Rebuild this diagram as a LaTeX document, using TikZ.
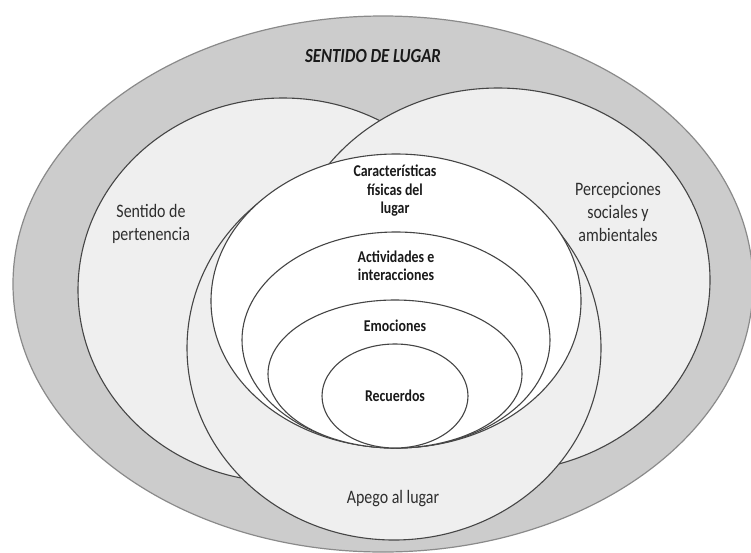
\documentclass[tikz,border=0pt]{standalone}
\usepackage{fontspec}
\setmainfont{Carlito}[FakeStretch=0.84]
\definecolor{outerfill}{HTML}{CCCCCC}
\definecolor{outeredge}{HTML}{8A8A8A}
\definecolor{lightfill}{HTML}{EFEFEF}
\definecolor{lineclr}{HTML}{454545}
\definecolor{txtclr}{HTML}{2E2E2E}
\begin{document}
\begin{tikzpicture}[x=1pt,y=-1pt,
  ring/.style={draw=lineclr,line width=1.1pt},
  lightring/.style={ring,fill=lightfill},
  whitering/.style={ring,fill=white},
  plainlabel/.style={align=center,text=txtclr,font=\fontsize{19}{23}\selectfont,inner sep=0pt},
  boldlabel/.style={align=center,text=black!90,font=\fontsize{16.5}{18.5}\selectfont\bfseries,inner sep=0pt},
  titlelabel/.style={text=black!90,font=\fontsize{20}{24}\selectfont\bfseries\itshape,inner sep=0pt}]
\useasboundingbox (0,0) rectangle (751,552);
\clip (0,0) rectangle (751,552);
% outer ellipse
\path[fill=outerfill,draw=outeredge,line width=1.2pt] (383,284) ellipse [x radius=370,y radius=268];
% left and right ellipses
\path[lightring] (283,290) ellipse [x radius=205,y radius=192];
\path[lightring] (498,280) ellipse [x radius=212,y radius=192];
% apego ellipse
\path[lightring] (394,348) ellipse [x radius=207,y radius=192];
% nested ellipses
\path[whitering] (396,301) ellipse [x radius=185,y radius=147];
\path[whitering] (396,340) ellipse [x radius=154,y radius=108];
\path[whitering] (395,374) ellipse [x radius=127,y radius=74];
\path[whitering] (395,396) ellipse [x radius=73,y radius=52];
% labels
\node[titlelabel] (title) at (373,56) {SENTIDO DE LUGAR};
\node[plainlabel] (pert) at (151,224) {Sentido de\\pertenencia};
\node[plainlabel] (perc) at (618,212) {Percepciones\\sociales y\\ambientales};
\node[boldlabel] (car) at (395,191) {Características\\físicas del\\lugar};
\node[boldlabel] (act) at (396,266) {Actividades e\\interacciones};
\node[boldlabel] (emo) at (395,326) {Emociones};
\node[boldlabel] (rec) at (395,396) {Recuerdos};
\node[plainlabel] (apego) at (393,499) {Apego al lugar};
\end{tikzpicture}
\end{document}
